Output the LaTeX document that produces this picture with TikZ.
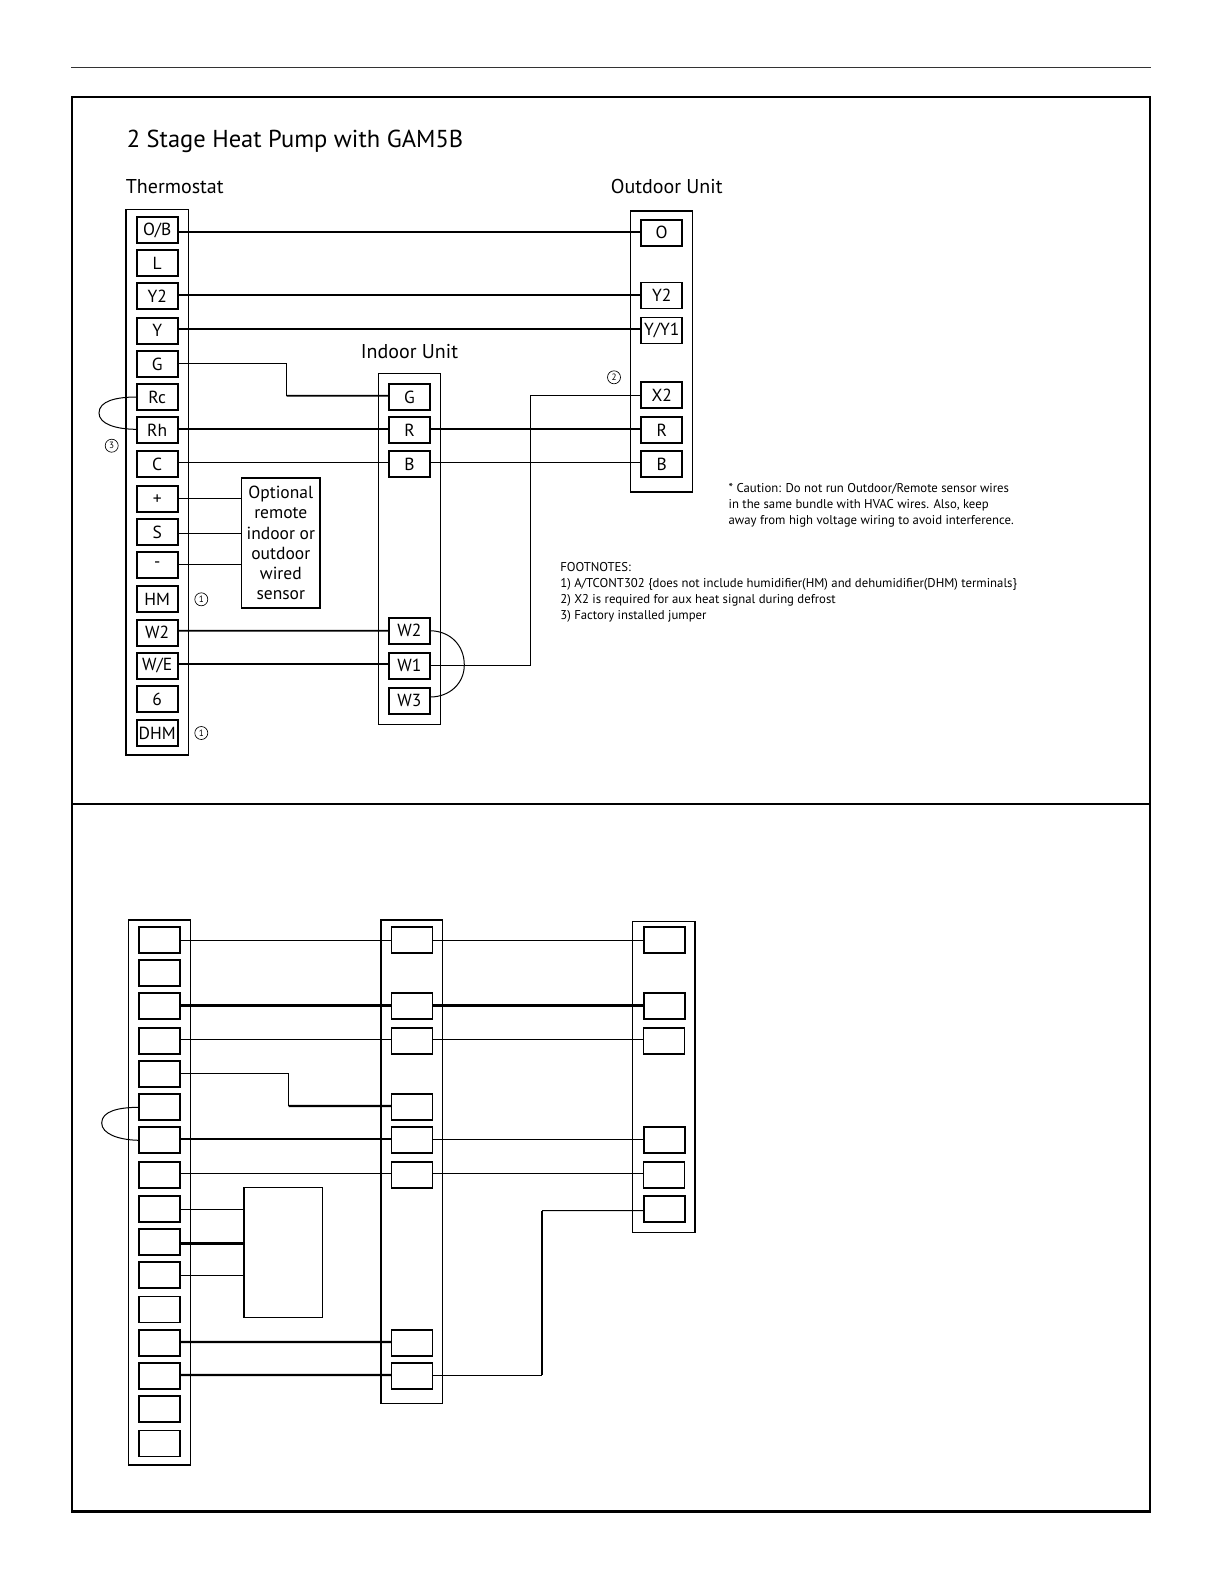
\documentclass[tikz,border=0pt]{standalone}
\usepackage{fontspec}
\setmainfont{PT Sans}
\usetikzlibrary{positioning,calc}
\tikzset{
  term/.style={draw,line width=1.1pt,rectangle,inner sep=0pt,outer sep=0pt,minimum width=24.6pt,minimum height=15.6pt,font=\fontsize{10.5}{12}\selectfont},
  termthin/.style={term,line width=.7pt},
  unit/.style={draw,line width=.8pt,rectangle,inner sep=0pt,outer sep=0pt},
  wire/.style={line width=1pt},
  wirethin/.style={line width=.6pt},
  wirethick/.style={line width=1.4pt},
  sidethick/.style={line width=1.1pt},
  heading/.style={anchor=base west,inner sep=0pt,font=\fontsize{12}{14}\selectfont},
  notes/.style={anchor=north west,inner sep=0pt,align=left,font=\fontsize{7.65}{9.55}\selectfont},
  fnmark/.style={draw,circle,line width=.4pt,inner sep=0pt,minimum size=7.8pt,font=\fontsize{5.5}{6}\selectfont}
}
\begin{document}
\begin{tikzpicture}[x=.6pt,y=-.6pt]
  \useasboundingbox (0,0) rectangle (1224,1584);
  % Page rule and the two panels
  \draw[line width=.5pt,black!80] (71,67) -- (1151,67);
  \draw[line width=1pt] (72,97) rectangle (1150,804);
  \draw[line width=1pt] (72,804) -- (72,1511) (1150,804) -- (1150,1511);
  \draw[line width=1.8pt] (71,1511.5) -- (1151,1511.5);

  % Headings
  \path (126.5,147) node[heading,font=\fontsize{14.7}{16}\selectfont] (title) {2 Stage Heat Pump with GAM5B};
  \path (125.5,193) node[heading] (thermoLabel) {Thermostat};
  \path (610.5,193) node[heading] (outdoorLabel) {Outdoor Unit};
  \path (360.5,358) node[heading] (indoorLabel) {Indoor Unit};

  % Upper thermostat
  \path (157.2,482.2) node[unit,minimum width=37.4pt,minimum height=327.4pt] (thermo) {};
  \path (157.2,230.3) node[term] (tOB) {O/B};
  \path (157.2,263.3) node[term] (tL) {L};
  \path (157.2,296.3) node[term] (tYb) {Y2};
  \path (157.2,330.7) node[term] (tY) {Y};
  \path (157.2,364.3) node[term] (tG) {G};
  \path (157.2,397) node[term] (tRc) {Rc};
  \path (157.2,430.3) node[term] (tRh) {Rh};
  \path (157.2,464.3) node[term] (tC) {C};
  \path (157.2,499.3) node[term] (tPlus) {+};
  \path (157.2,532) node[term] (tS) {S};
  \path (157.2,565) node[term] (tMinus) {-};
  \path (157.2,599.3) node[term] (tHM) {HM};
  \path (157.2,632.7) node[term] (tWb) {W2};
  \path (157.2,665.7) node[term] (tWE) {W/E};
  \path (157.2,699) node[term] (tSix) {6};
  \path (157.2,733.3) node[term] (tDHM) {DHM};

  % Upper indoor unit
  \path (409.3,549) node[unit,minimum width=37.2pt,minimum height=210.4pt] (indoor) {};
  \path (409.5,397) node[term] (iG) {G};
  \path (409.5,430.3) node[term] (iR) {R};
  \path (409.5,464.3) node[term] (iB) {B};
  \path (409.5,630.7) node[term] (iWb) {W2};
  \path (409.5,665.7) node[term] (iWa) {W1};
  \path (409.5,700.7) node[term] (iWc) {W3};

  % Upper outdoor unit
  \path (661.7,351.5) node[unit,minimum width=37.2pt,minimum height=168.6pt] (outdoor) {};
  \path (661.7,232.7) node[term] (oO) {O};
  \path (661.7,295.5) node[term] (oYb) {Y2};
  \path (661.7,330.5) node[term] (oYa) {Y/Y1};
  \path (661.7,395.3) node[term] (oX) {X2};
  \path (661.7,430) node[term] (oR) {R};
  \path (661.7,464.3) node[term] (oB) {B};

  % Upper sensor
  \path (280.8,543) node[unit,line width=1pt,minimum width=47pt,minimum height=78pt,align=center,font=\fontsize{10.5}{12.1}\selectfont] (sensor) {Optional\\remote\\indoor or\\outdoor\\wired\\sensor};

  % Footnote marks and notes
  \path (201.3,599.3) node[fnmark] (markHM) {1};
  \path (201.3,733) node[fnmark] (markDHM) {1};
  \path (614,377.3) node[fnmark] (markX) {2};
  \path (111.7,445.7) node[fnmark] (markJ) {3};
  \path (728.3,483) node[notes] (caution) {* Caution: Do not run Outdoor/Remote sensor wires\\in the same bundle with HVAC wires.  Also, keep\\away from high voltage wiring to avoid interference.};
  \path (560,562) node[notes] (footnotes) {FOOTNOTES:\\1) A/TCONT302 \{does not include humidifier(HM) and dehumidifier(DHM) terminals\}\\2) X2 is required for aux heat signal during defrost\\3) Factory installed jumper};

  % Upper wires
  \coordinate (bendG) at (286.7,395.7);
  \coordinate (bendX) at (530.3,395.3);
  \draw[wire] ([yshift=-1pt]tOB.east) -- ([yshift=.4pt]oO.west);
  \draw[wire] ([yshift=.8pt]tYb.east) -- ([yshift=.3pt]oYb.west);
  \draw[wire] ([yshift=1pt]tY.east) -- ([yshift=.9pt]oYa.west);
  \draw[wirethin] ([yshift=.6pt]tG.east) -| (bendG);
  \draw[wire] (bendG) -- ([yshift=.8pt]iG.west);
  \draw[wire] ([yshift=.8pt]tRh.east) -- ([yshift=.8pt]iR.west);
  \draw[wire] ([yshift=.8pt]iR.east) -- ([yshift=.6pt]oR.west);
  \draw[wire] ([yshift=1pt]tC.east) -- ([yshift=1pt]iB.west);
  \draw[wire] ([yshift=1pt]iB.east) -- ([yshift=1pt]oB.west);
  \draw[wire] ([yshift=.4pt]tPlus.east) -- ([yshift=.4pt]tPlus.east -| sensor.west);
  \draw[wirethin] ([yshift=-.8pt]tS.east) -- ([yshift=-.8pt]tS.east -| sensor.west);
  \draw[wire] ([yshift=.4pt]tMinus.east) -- ([yshift=.4pt]tMinus.east -| sensor.west);
  \draw[wire] ([yshift=1.2pt]tWb.east) -- (iWb.west);
  \draw[wire] ([yshift=1.2pt]tWE.east) -- ([yshift=1.2pt]iWa.west);
  \draw[wirethin] (iWa.east) -| (bendX);
  \draw[wirethin] (bendX) -- (oX.west);
  \draw[wirethin] (tRc.west) .. controls (116,397) and (99,401) .. (99,413) .. controls (99,424) and (116,429.3) .. ([yshift=.6pt]tRh.west);
  \draw[wirethin] (iWb.east) .. controls (450,631) and (464.3,645) .. (464.3,665) .. controls (464.3,683) and (450,697) .. ([yshift=2.2pt]iWc.east);

  % Lower thermostat
  \path (159.5,1192.5) node[unit,line width=.7pt,minimum width=37.2pt,minimum height=327pt] (lThermo) {};
  \draw[sidethick] (lThermo.north east) -- (lThermo.south east);
  \path (159.5,940.3) node[term] (ltOB) {};
  \path (159.5,973.3) node[term] (ltL) {};
  \path (159.5,1006.3) node[term] (ltYb) {};
  \path (159.5,1041) node[termthin] (ltY) {};
  \path (159.5,1074.3) node[term] (ltG) {};
  \path (159.5,1107.3) node[term] (ltRc) {};
  \path (159.5,1140.3) node[term] (ltRh) {};
  \path (159.5,1175) node[termthin] (ltC) {};
  \path (159.5,1209.3) node[term] (ltPlus) {};
  \path (159.5,1242.3) node[term] (ltS) {};
  \path (159.5,1275.3) node[term] (ltMinus) {};
  \path (159.5,1309.3) node[termthin] (ltHM) {};
  \path (159.5,1342.7) node[term] (ltWb) {};
  \path (159.5,1375.7) node[term] (ltWE) {};
  \path (159.5,1409) node[termthin] (ltSix) {};
  \path (159.5,1443.3) node[termthin] (ltDHM) {};

  % Lower indoor unit
  \path (411.7,1161.7) node[unit,line width=.7pt,minimum width=36.8pt,minimum height=290pt] (lIndoor) {};
  \draw[sidethick] (lIndoor.north west) -- (lIndoor.south west);
  \path (412,940.3) node[term] (liOB) {};
  \path (412,1006.3) node[term] (liYb) {};
  \path (412,1041) node[termthin] (liY) {};
  \path (412,1107.3) node[term] (liG) {};
  \path (412,1140.3) node[term] (liR) {};
  \path (412,1175) node[termthin] (liB) {};
  \path (412,1343.3) node[term] (liWb) {};
  \path (412,1376.3) node[term] (liWa) {};

  % Lower outdoor unit
  \path (664,1076.8) node[unit,minimum width=37.6pt,minimum height=186.6pt] (lOutdoor) {};
  \draw[sidethick] (lOutdoor.north east) -- (lOutdoor.south east);
  \path (664.2,940.3) node[term] (loOB) {};
  \path (664.2,1006.3) node[term] (loYb) {};
  \path (664.2,1041) node[termthin] (loY) {};
  \path (664.2,1140.3) node[term] (loR) {};
  \path (664.2,1175) node[termthin] (loB) {};
  \path (664.2,1209.3) node[term] (loX) {};

  % Lower sensor
  \path (283.2,1252.8) node[unit,minimum width=47pt,minimum height=78pt] (lSensor) {};

  % Lower wires
  \coordinate (lBendG) at (288.7,1106);
  \coordinate (lBendA) at (542,1375.3);
  \coordinate (lBendB) at (542,1210.7);
  \draw[wirethin] (ltOB.east) -- (liOB.west) (liOB.east) -- (loOB.west);
  \draw[wirethick] ([yshift=.4pt]ltYb.east) -- ([yshift=.4pt]liYb.west);
  \draw[wirethick] ([yshift=.4pt]liYb.east) -- ([yshift=.4pt]loYb.west);
  \draw[wirethin] ([yshift=1pt]ltY.east) -- ([yshift=1pt]liY.west);
  \draw[wirethin] ([yshift=1pt]liY.east) -- ([yshift=1pt]loY.west);
  \draw[wirethin] ([yshift=.6pt]ltG.east) -| (lBendG);
  \draw[wirethick] (lBendG) -- ([yshift=.8pt]liG.west);
  \draw[wirethick] ([yshift=.8pt]ltRh.east) -- ([yshift=.8pt]liR.west);
  \draw[wirethin] ([yshift=.2pt]liR.east) -- ([yshift=.2pt]loR.west);
  \draw[wirethin] ([yshift=1pt]ltC.east) -- ([yshift=1pt]liB.west);
  \draw[wirethin] ([yshift=1pt]liB.east) -- ([yshift=1pt]loB.west);
  \draw[wirethin] (ltPlus.east) -- (ltPlus.east -| lSensor.west);
  \draw[wirethick] ([yshift=-.8pt]ltS.east) -- ([yshift=-.8pt]ltS.east -| lSensor.west);
  \draw[wirethin] (ltMinus.east) -- (ltMinus.east -| lSensor.west);
  \draw[wirethick] ([yshift=.4pt]ltWb.east) -- ([yshift=.8pt]liWb.west);
  \draw[wirethick] ([yshift=.4pt]ltWE.east) -- ([yshift=.8pt]liWa.west);
  \draw[wirethin] ([yshift=.6pt]liWa.east) -- (lBendA);
  \draw[wirethick] (lBendA) -- (lBendB);
  \draw[wirethin] (lBendB) -- ([yshift=-.8pt]loX.west);
  \draw[wirethin] (ltRc.west) .. controls (119,1107.3) and (101.7,1111) .. (101.7,1123) .. controls (101.7,1134) and (119,1140) .. (ltRh.west);
\end{tikzpicture}
\end{document}
